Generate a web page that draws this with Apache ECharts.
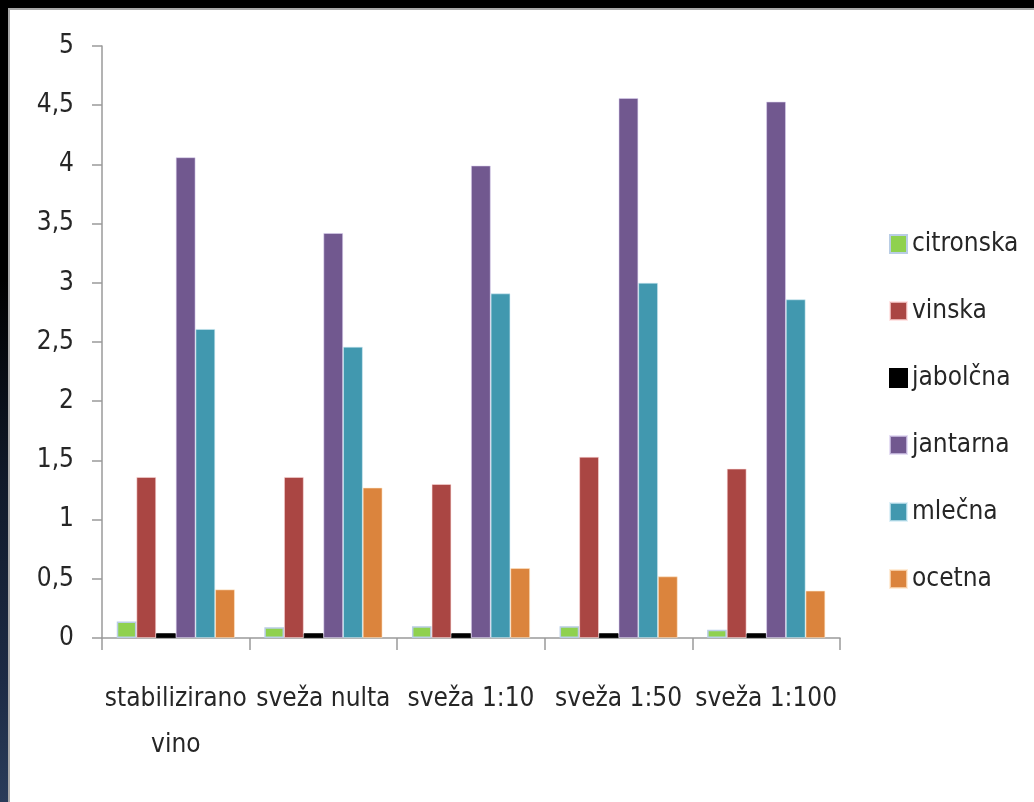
<!DOCTYPE html>
<html>
<head>
<meta charset="utf-8">
<script src="https://cdn.jsdelivr.net/npm/echarts@6/dist/echarts.min.js"></script>
<style>
  html, body { margin: 0; padding: 0; width: 1034px; height: 802px; overflow: hidden; }
  #frame {
    position: absolute; left: 0; top: 0; width: 1034px; height: 802px;
    background: linear-gradient(to bottom, #000 0%, #000 35%, #111a2a 60%, #1d2b45 85%, #2a3c5a 100%);
  }
  #paper {
    position: absolute; left: 8px; top: 8px; right: 0; bottom: 0;
    background: #fff; border-top: 2px solid #a8a8a8; border-left: 2px solid #a8a8a8;
  }
  #chart { position: absolute; left: 0; top: 0; width: 1034px; height: 802px; }
</style>
</head>
<body>
<div id="frame"><div id="paper"></div></div>
<div id="chart"></div>
<script>
// Organic acid content per wine sample
const categories = ['stabilizirano\nvino', 'sveža nulta', 'sveža 1:10', 'sveža 1:50', 'sveža 1:100'];
const seriesNames = ['citronska', 'vinska', 'jabolčna', 'jantarna', 'mlečna', 'ocetna'];
const citronska = [0.14, 0.09, 0.10, 0.10, 0.07];
const vinska    = [1.36, 1.36, 1.30, 1.53, 1.43];
const jabolcna  = [0.04, 0.04, 0.04, 0.04, 0.04];
const jantarna  = [4.06, 3.42, 3.99, 4.56, 4.53];
const mlecna    = [2.61, 2.46, 2.91, 3.00, 2.86];
const ocetna    = [0.41, 1.27, 0.59, 0.52, 0.40];
const yTicks = [0, 0.5, 1, 1.5, 2, 2.5, 3, 3.5, 4, 4.5, 5];

const colors = ['#8fd14f', '#aa4643', '#000000', '#71588f', '#4198af', '#db843d'];
const borders = ['#b9cde5', 'rgba(255,220,220,0.7)', '#000000', 'rgba(220,210,240,0.7)', 'rgba(210,235,245,0.7)', 'rgba(255,230,200,0.7)'];
const values = [citronska, vinska, jabolcna, jantarna, mlecna, ocetna];

const FONT = "'Liberation Sans Narrow', 'DejaVu Sans Condensed', sans-serif";
const TEXT = '#262626';
const AXIS = '#9a9a9a';

const chart = echarts.init(document.getElementById('chart'), null, { renderer: 'canvas' });
chart.setOption({
  backgroundColor: 'transparent',
  animation: false,
  color: colors,
  grid: { left: 102, top: 46, right: 194, bottom: 164, containLabel: false },
  legend: {
    orient: 'vertical',
    left: 884,
    top: 221,
    icon: 'rect',
    itemWidth: 17,
    itemHeight: 18,
    itemGap: 31,
    data: seriesNames,
    textStyle: { fontFamily: FONT, fontSize: 26, color: TEXT, lineHeight: 36 }
  },
  xAxis: {
    type: 'category',
    data: categories,
    axisLine: { lineStyle: { color: AXIS, width: 1.5 } },
    axisTick: { show: true, length: 12, lineStyle: { color: AXIS, width: 1.5 } },
    axisLabel: {
      interval: 0, margin: 38, fontFamily: FONT, fontSize: 26, color: TEXT,
      lineHeight: 46, align: 'center'
    }
  },
  yAxis: {
    type: 'value',
    min: yTicks[0],
    max: yTicks[yTicks.length - 1],
    interval: 0.5,
    splitLine: { show: false },
    axisLine: { show: true, lineStyle: { color: AXIS, width: 1.5 } },
    axisTick: { show: true, length: 10, lineStyle: { color: AXIS, width: 1.5 } },
    axisLabel: {
      margin: 28, fontFamily: FONT, fontSize: 26, color: TEXT,
      formatter: v => String(v).replace('.', ',')
    }
  },
  series: seriesNames.map((name, i) => ({
    name: name,
    type: 'bar',
    data: values[i],
    barGap: '0%',
    barCategoryGap: '20%',
    itemStyle: {
      color: colors[i],
      borderColor: borders[i],
      borderWidth: i === 0 ? 1.5 : 0.8
    }
  }))
});
</script>
</body>
</html>
